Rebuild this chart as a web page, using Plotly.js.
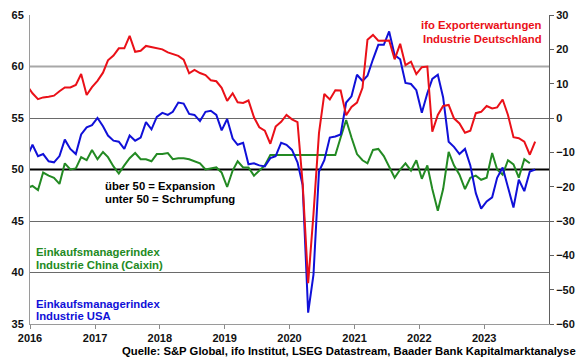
<!DOCTYPE html>
<html>
<head>
<meta charset="utf-8">
<script src="https://cdn.plot.ly/plotly-3.0.1.min.js"></script>
<style>
html,body{margin:0;padding:0;background:#fff;}
#chart{width:580px;height:359px;}
</style>
</head>
<body>
<div id="chart"></div>
<script>
// ---- Data (monthly, first value = Dec 2015) ----
const firstYear = 2015, firstMonth = 12;

// S&P Global Einkaufsmanagerindex Industrie USA (left axis)
const usaPMI = [
  51.2,
  52.4, 51.3, 51.5, 50.8, 50.7, 51.3, 52.9, 52.0, 51.5, 53.4, 54.1, 54.3,
  55.0, 54.2, 53.3, 52.8, 52.7, 52.0, 53.3, 52.8, 53.1, 54.6, 53.9, 55.1,
  55.5, 55.3, 55.6, 56.5, 56.4, 55.4, 55.3, 54.7, 55.6, 55.7, 55.3, 53.8,
  54.9, 53.0, 52.4, 52.6, 50.5, 50.6, 50.4, 50.3, 51.1, 51.3, 52.6, 52.4,
  51.9, 50.7, 48.5, 36.1, 39.8, 49.8, 50.9, 53.1, 53.2, 53.4, 56.5, 57.1,
  59.2, 58.6, 59.1, 60.7, 62.1, 62.1, 63.4, 61.1, 60.7, 58.4, 58.3, 57.7,
  55.5, 57.4, 58.8, 59.2, 57.0, 52.7, 52.2, 51.5, 52.0, 50.4, 47.7, 46.2,
  46.9, 47.3, 49.2, 50.2, 48.4, 46.3, 49.0, 47.9, 49.8, 50.0
];

// Caixin Einkaufsmanagerindex Industrie China (left axis)
const chinaPMI = [
  48.2,
  48.4, 48.0, 49.7, 49.4, 49.2, 48.6, 50.6, 50.0, 50.1, 51.2, 50.9, 51.9,
  51.0, 51.7, 51.2, 50.3, 49.6, 50.4, 51.1, 51.6, 51.0, 51.0, 50.8, 51.5,
  51.5, 51.6, 51.0, 51.1, 51.1, 51.0, 50.8, 50.6, 50.0, 50.1, 50.2, 49.7,
  48.3, 49.9, 50.8, 50.2, 50.2, 49.4, 49.9, 50.4, 51.4, 51.4, 51.4, 51.4,
  51.4, 51.4, 51.4, 51.4, 51.4, 51.4, 51.4, 51.4, 51.4, 53.1, 54.8, 53.1,
  51.5, 50.9, 50.6, 51.9, 52.0, 51.3, 50.3, 49.2, 50.0, 50.6, 49.9, 50.9,
  49.1, 50.4, 48.1, 46.0, 48.1, 51.7, 50.4, 49.5, 48.1, 49.2, 49.4, 49.0,
  49.2, 51.6, 50.0, 49.5, 50.9, 50.5, 49.2, 51.0, 50.6
];

// ifo Exporterwartungen Industrie Deutschland (right axis)
const ifoExport = [
  9.5,
  7.2, 5.5, 6.0, 6.2, 6.5, 7.8, 8.9, 8.9, 9.6, 12.8, 6.7, 9.0,
  10.8, 13.2, 16.8, 18.2, 20.3, 20.3, 23.9, 19.3, 19.6, 21.0, 20.7, 20.3,
  20.0, 19.1, 18.6, 18.1, 17.0, 13.0, 14.0, 13.1, 12.5, 11.0, 10.7, 8.8,
  5.0, 7.2, 4.6, 4.4, 5.1, 0.2, -2.7, -3.7, -7.5, -2.5, -1.1, 0.9,
  -0.4, -1.2, -19.0, -48.1, -28.0, -4.4, 7.0, 5.4, 8.1, 8.0, 0.8, 3.2,
  4.5, 8.8, 22.8, 24.2, 22.5, 22.5, 22.6, 17.1, 21.6, 15.4, 16.4, 12.8,
  14.8, 15.0, -4.0, 0.9, 3.5, 3.8, -0.1, -1.6, -4.3, -3.7, 1.4, 1.8,
  3.5, 2.8, 3.1, 5.4, 0.9, -5.6, -5.9, -6.9, -10.7, -6.9
];

const yearLabels = ['2016','2017','2018','2019','2020','2021','2022','2023'];
const leftTicks = [35, 40, 45, 50, 55, 60, 65];
const leftGridTicks = [40, 45, 55, 65];
const rightTicks = [-60, -50, -40, -30, -20, -10, 0, 10, 20, 30];
const thresholdLevel = 50;
const lightGridLevel = 60;

// ---- Helpers ----
function monthDates(n) {
  const out = [];
  let y = firstYear, m = firstMonth;
  for (let i = 0; i < n; i++) {
    out.push(y + '-' + String(m).padStart(2, '0') + '-15');
    m++; if (m > 12) { m = 1; y++; }
  }
  return out;
}

const FONT = 'Liberation Sans, Arial, sans-serif';
const RED = '#ea1018', BLUE = '#1010d8', GREEN = '#238a23';

const traces = [
  { x: monthDates(chinaPMI.length), y: chinaPMI, type: 'scatter', mode: 'lines',
    line: { color: GREEN, width: 2 }, yaxis: 'y', hoverinfo: 'skip' },
  { x: monthDates(usaPMI.length), y: usaPMI, type: 'scatter', mode: 'lines',
    line: { color: BLUE, width: 2 }, yaxis: 'y', hoverinfo: 'skip' },
  { x: monthDates(ifoExport.length), y: ifoExport, type: 'scatter', mode: 'lines',
    line: { color: RED, width: 2 }, yaxis: 'y2', hoverinfo: 'skip' }
];

function note(text, x, y, color, xanchor) {
  return { text: text, xref: 'paper', yref: 'paper', x: x, y: y,
    xanchor: xanchor, yanchor: 'middle', showarrow: false, borderpad: 0,
    font: { family: FONT, size: 11.3, color: color, weight: 'bold' } };
}

const layout = {
  width: 580, height: 359,
  margin: { l: 30, r: 31, t: 15, b: 35, pad: 0 },
  paper_bgcolor: '#ffffff', plot_bgcolor: '#ffffff',
  showlegend: false,
  xaxis: {
    type: 'date', range: ['2016-01-01', '2024-01-01'],
    tickvals: yearLabels.map(y => y + '-01-01'), ticktext: yearLabels,
    ticks: 'outside', ticklen: 4, tickcolor: '#8a8a8a',
    showline: true, linecolor: '#9a9a9a', linewidth: 1,
    showgrid: false, zeroline: false,
    tickfont: { family: FONT, size: 11, color: '#111', weight: 'bold' }
  },
  yaxis: {
    range: [35, 65], tickvals: leftTicks,
    showgrid: false,
    minor: { tickvals: leftGridTicks, showgrid: true, gridcolor: '#6a6a6a', gridwidth: 1, ticks: '' },
    showline: true, linecolor: '#9a9a9a', linewidth: 1,
    ticks: '', zeroline: false, ticklabelstandoff: 3,
    tickfont: { family: FONT, size: 11, color: '#111', weight: 'bold' }
  },
  yaxis2: {
    range: [-60, 30], tickvals: rightTicks, overlaying: 'y', side: 'right',
    showgrid: false, showline: true, linecolor: '#606060', linewidth: 1,
    ticks: 'outside', ticklen: 4, tickcolor: '#606060', zeroline: false,
    tickfont: { family: FONT, size: 11, color: '#111', weight: 'bold' }
  },
  shapes: [
    { type: 'line', xref: 'paper', x0: 0, x1: 1, yref: 'y', y0: lightGridLevel, y1: lightGridLevel,
      line: { color: '#a8a8a8', width: 2 }, layer: 'below' },
    { type: 'line', xref: 'paper', x0: 0, x1: 1, yref: 'y', y0: thresholdLevel, y1: thresholdLevel,
      line: { color: '#000000', width: 2 }, layer: 'below' }
  ],
  annotations: [
    note('ifo Exporterwartungen', 0.9884, 0.9676, RED, 'right'),
    note('Industrie Deutschland', 0.9884, 0.9239, RED, 'right'),
    note('über 50 = Expansion', 0.1426, 0.4466, '#000', 'left'),
    note('unter 50 = Schrumpfung', 0.1426, 0.4045, '#000', 'left'),
    note('Einkaufsmanagerindex', 0.0096, 0.234, GREEN, 'left'),
    note('Industrie China (Caixin)', 0.0096, 0.191, GREEN, 'left'),
    note('Einkaufsmanagerindex', 0.0096, 0.0663, BLUE, 'left'),
    note('Industrie USA', 0.0096, 0.0259, BLUE, 'left'),
    note('Quelle: S&P Global, ifo Institut, LSEG Datastream, Baader Bank Kapitalmarktanalyse', 1.053, -0.0883, '#000', 'right')
  ]
};

Plotly.newPlot('chart', traces, layout, { staticPlot: true, displayModeBar: false });
</script>
</body>
</html>
